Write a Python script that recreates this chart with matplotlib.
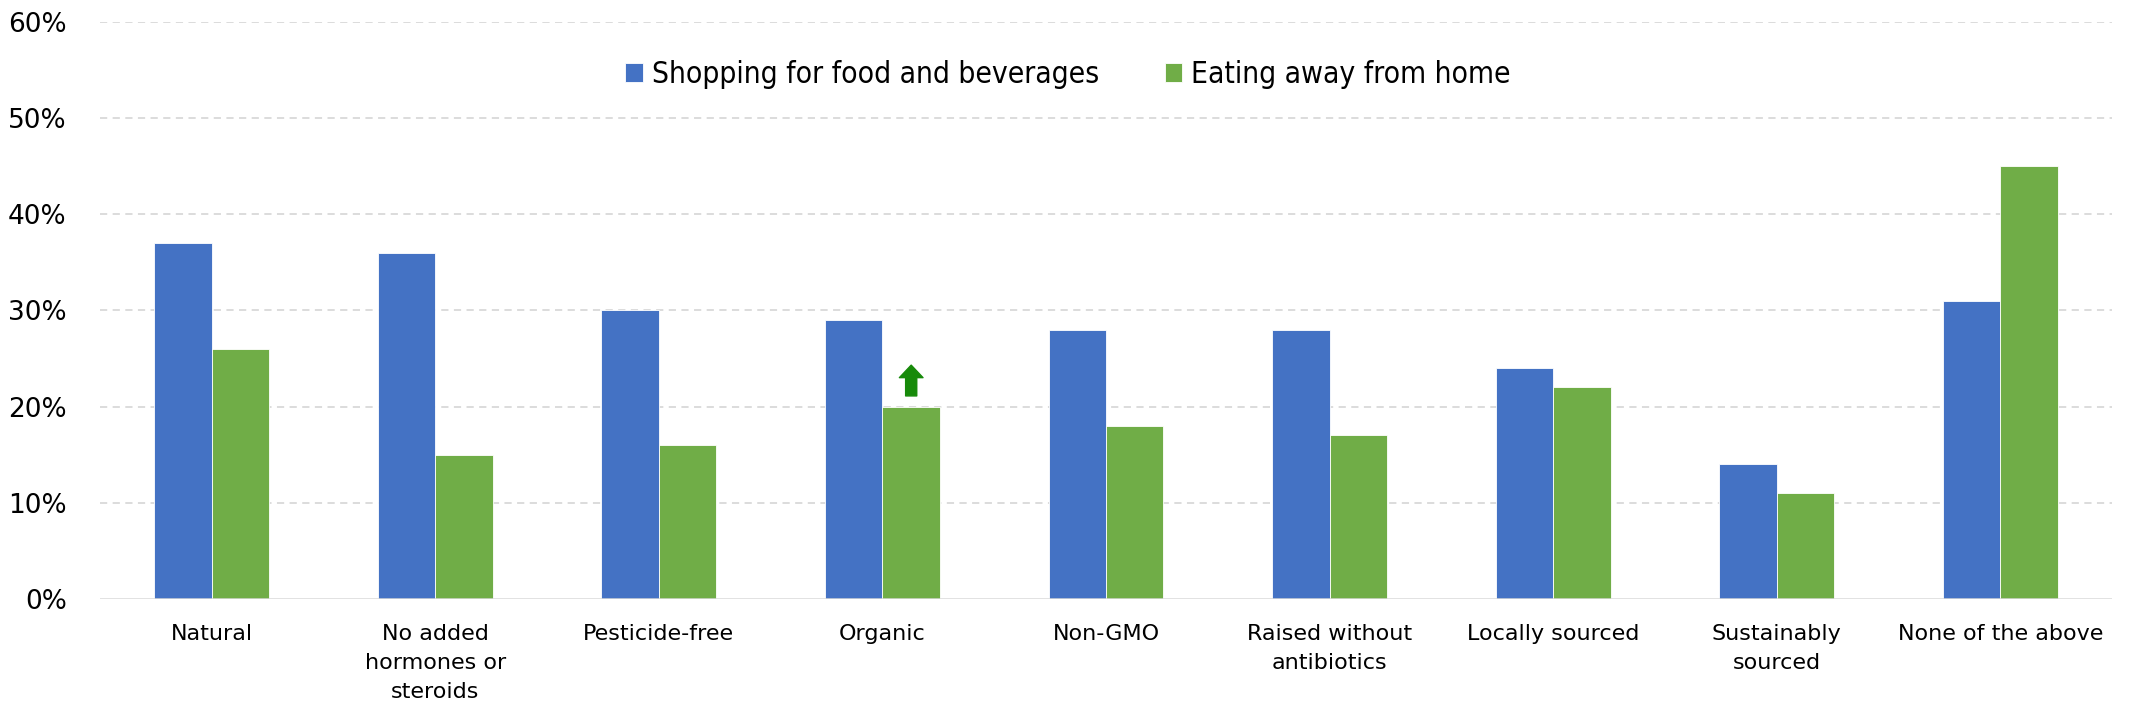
import matplotlib.pyplot as plt
import numpy as np
from matplotlib.ticker import PercentFormatter

# data
categories = ["Natural", "No added\nhormones or\nsteroids", "Pesticide-free", "Organic",
              "Non-GMO", "Raised without\nantibiotics", "Locally sourced",
              "Sustainably\nsourced", "None of the above"]
shopping = [37, 36, 30, 29, 28, 28, 24, 14, 31]
eating_out = [26, 15, 16, 20, 18, 17, 22, 11, 45]
series_names = ["Shopping for food and beverages", "Eating away from home"]
yticks = [0, 10, 20, 30, 40, 50, 60]
arrow_idx = 3  # organic, eating away from home went up

BLUE = "#4472C4"
GREEN = "#70AD47"

fig = plt.figure(figsize=(21.29, 7.13), dpi=100)
ax = fig.add_axes([0.047, 0.160, 0.945, 0.8096])

x = np.arange(len(categories))
w = 0.257
ax.bar(x - w/2, shopping, w, color=BLUE, edgecolor="white", linewidth=0.6, label=series_names[0], zorder=2)
ax.bar(x + w/2, eating_out, w, color=GREEN, edgecolor="white", linewidth=0.6, label=series_names[1], zorder=2)

ax.set_xlim(-0.5, len(categories) - 0.5)
ax.set_ylim(0, 60)
ax.set_yticks(yticks)
ax.yaxis.set_major_formatter(PercentFormatter(decimals=0))
for y in yticks[1:]:
    ax.axhline(y, color="#d9d9d9", linestyle=(0, (4, 3)), linewidth=1.3, zorder=1)
ax.axhline(0, color="#d9d9d9", linewidth=1.8, zorder=3)

ax.set_xticks(x)
ax.set_xticklabels(categories, fontsize=16, linespacing=1.55)
ax.tick_params(axis="x", length=0, pad=18)
ax.tick_params(axis="y", length=0, pad=24, labelsize=19)
for s in ax.spines.values():
    s.set_visible(False)

# little green "up" arrow over organic
ax.annotate("", xy=(arrow_idx + w/2, 24.3), xytext=(arrow_idx + w/2, 21.1),
            arrowprops=dict(arrowstyle="simple,head_width=1.7,head_length=0.9,tail_width=0.8",
                            mutation_scale=10, color="#178A0A", shrinkA=0, shrinkB=0))

leg = ax.legend(loc="center", bbox_to_anchor=(0.481, 0.908), ncol=2, frameon=False,
                handlelength=0.6, handleheight=0.6, handletextpad=0.3, columnspacing=2.2,
                prop=dict(family="DejaVu Sans", stretch="condensed", size=21.5))

fig.savefig("out.png", dpi=100)
